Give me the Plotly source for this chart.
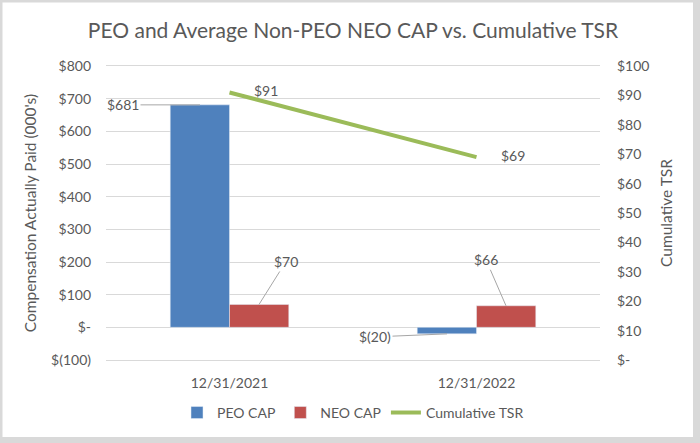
import plotly.graph_objects as go

categories = ["12/31/2021", "12/31/2022"]
peo_cap = [681, -20]
neo_cap = [70, 66]
tsr = [91, 69]

peo_labels = ["$681", "$(20)"]
neo_labels = ["$70", "$66"]
tsr_labels = ["$91", "$69"]

left_tickvals = [-100, 0, 100, 200, 300, 400, 500, 600, 700, 800]
left_ticktext = ["$(100)", "$-", "$100", "$200", "$300", "$400", "$500", "$600", "$700", "$800"]
right_tickvals = [0, 10, 20, 30, 40, 50, 60, 70, 80, 90, 100]
right_ticktext = ["$-", "$10", "$20", "$30", "$40", "$50", "$60", "$70", "$80", "$90", "$100"]
boundary_ticks = [-0.5, 0.5, 1.5]

FONT = "Lato"
TXT = "#595959"
GRID = "#D9D9D9"
BORDER = "#D9D9D9"

fig = go.Figure()
fig.add_trace(go.Bar(x=categories, y=peo_cap, name="PEO CAP", marker_color="#4F81BD"))
fig.add_trace(go.Bar(x=categories, y=neo_cap, name="NEO CAP", marker_color="#C0504D"))
fig.add_trace(go.Scatter(x=categories, y=tsr, name="Cumulative TSR", mode="lines",
                         line=dict(color="#9BBB59", width=4), yaxis="y2"))

annotations = []
peo_offsets = [(-77, 0), (-72, 3)]
for c, v, t, (ax, ay) in zip(categories, peo_cap, peo_labels, peo_offsets):
    annotations.append(dict(x=c, y=v, xref="x", yref="y", text=t, showarrow=True,
                            arrowhead=0, arrowwidth=1, arrowcolor="#A6A6A6",
                            ax=ax, ay=ay, xshift=-29.5, standoff=0,
                            font=dict(family=FONT, size=14, color=TXT)))
neo_offsets = [(27, -43), (-20, -46)]
for c, v, t, (ax, ay) in zip(categories, neo_cap, neo_labels, neo_offsets):
    annotations.append(dict(x=c, y=v, xref="x", yref="y", text=t, showarrow=True,
                            arrowhead=0, arrowwidth=1, arrowcolor="#A6A6A6",
                            ax=ax, ay=ay, xshift=29.5, standoff=0,
                            font=dict(family=FONT, size=14, color=TXT)))
for c, v, t in zip(categories, tsr, tsr_labels):
    annotations.append(dict(x=c, y=v, xref="x", yref="y2", text=t, showarrow=False,
                            xshift=36, yshift=2,
                            font=dict(family=FONT, size=14, color=TXT)))

def px_x(p):
    return (p - 106) / 494

def px_y(p):
    return (360 - p) / 294

fig.update_layout(
    width=700, height=443,
    margin=dict(l=106, r=100, t=66, b=83),
    paper_bgcolor="white",
    plot_bgcolor="white",
    title=dict(text="PEO and Average Non-PEO NEO CAP vs. Cumulative TSR",
               x=0.5, xref="paper", xanchor="center", y=0.93, yanchor="middle",
               font=dict(family=FONT, size=21, color=TXT)),
    font=dict(family=FONT, size=14, color=TXT),
    barmode="group", bargap=0.52, bargroupgap=0,
    xaxis=dict(type="category", range=[-0.5, 1.5], showgrid=False,
               showline=True, mirror=True, linecolor=GRID, linewidth=1,
               ticks="", ticklabelstandoff=10,
               tickfont=dict(size=14, color=TXT)),
    xaxis2=dict(overlaying="x", anchor="free", position=100 / 900,
                range=[-0.5, 1.5], tickvals=boundary_ticks, ticks="outside",
                ticklen=4, tickcolor=GRID, tickwidth=1, showticklabels=False,
                showgrid=False, zeroline=False, showline=False),
    yaxis=dict(range=[-100, 800], tickvals=left_tickvals, ticktext=left_ticktext,
               gridcolor=GRID, gridwidth=1, zeroline=False, showline=False,
               ticks="", ticklabelstandoff=14, tickfont=dict(size=14, color=TXT),
               title=dict(text="Compensation Actually Paid (000's)", standoff=10,
                          font=dict(size=15.5, color=TXT))),
    yaxis2=dict(range=[0, 100], tickvals=right_tickvals, ticktext=right_ticktext,
                overlaying="y", side="right", showgrid=False, zeroline=False,
                showline=False, ticks="", ticklabelstandoff=16,
                tickfont=dict(size=14, color=TXT),
                title=dict(text="Cumulative TSR", standoff=12,
                           font=dict(size=15.5, color=TXT))),
    legend=dict(orientation="h", x=0.5, xanchor="center", xref="paper",
                y=-0.18, yanchor="middle", font=dict(size=14, color=TXT),
                bgcolor="rgba(0,0,0,0)", traceorder="normal"),
    annotations=annotations,
    shapes=[
        dict(type="line", xref="paper", yref="paper", layer="above",
             x0=px_x(0), x1=px_x(700), y0=px_y(1), y1=px_y(1),
             line=dict(color=BORDER, width=3)),
        dict(type="line", xref="paper", yref="paper", layer="above",
             x0=px_x(1), x1=px_x(1), y0=px_y(0), y1=px_y(443),
             line=dict(color=BORDER, width=3)),
        dict(type="line", xref="paper", yref="paper", layer="above",
             x0=px_x(696.5), x1=px_x(696.5), y0=px_y(0), y1=px_y(443),
             line=dict(color=BORDER, width=7)),
        dict(type="line", xref="paper", yref="paper", layer="above",
             x0=px_x(0), x1=px_x(700), y0=px_y(440), y1=px_y(440),
             line=dict(color=BORDER, width=6)),
    ],
)

fig.write_html("out.html", config={"displayModeBar": False},
               post_script="document.body.style.margin='0';")
